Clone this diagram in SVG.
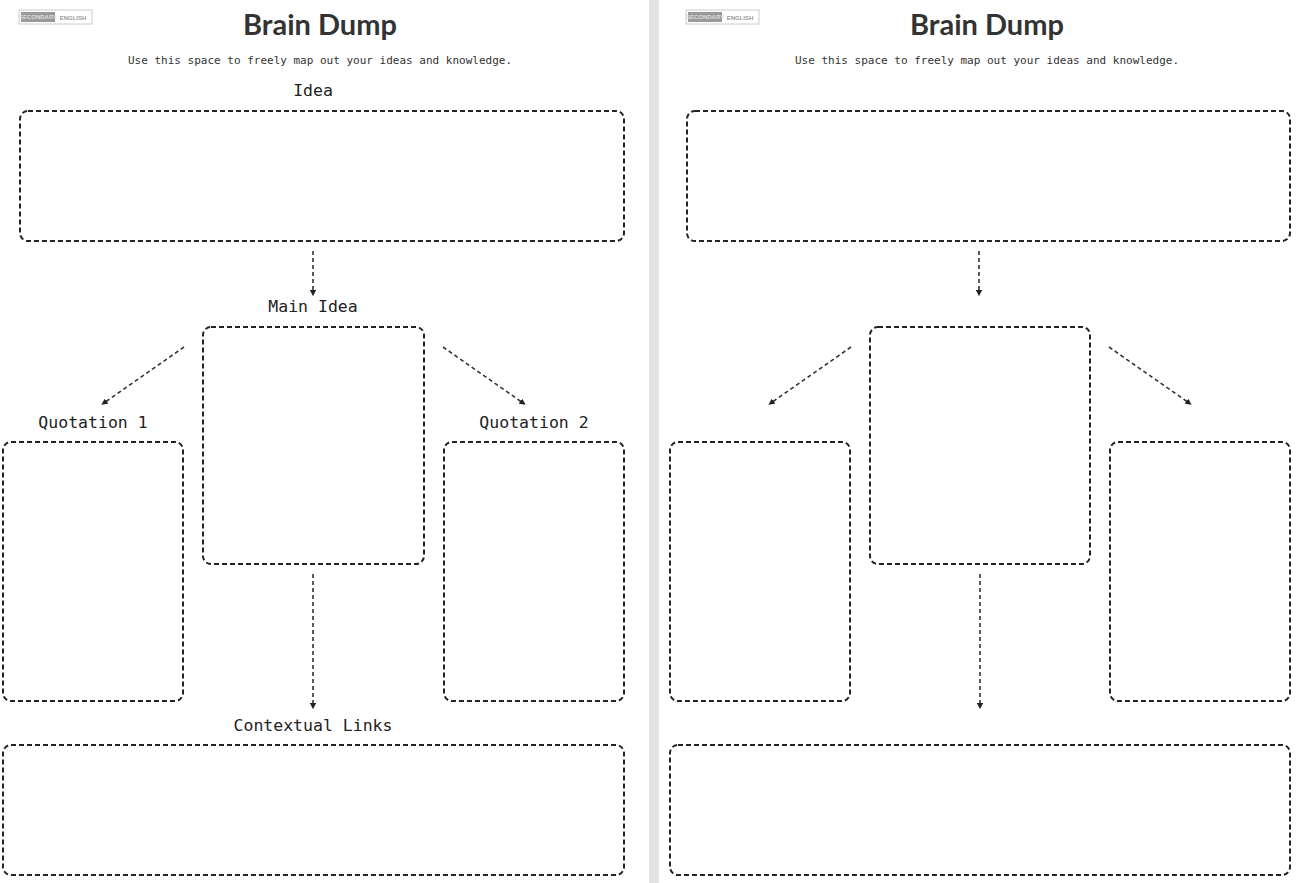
<svg xmlns="http://www.w3.org/2000/svg" width="1306" height="883" viewBox="0 0 1306 883">
<defs>
<style>
.box{fill:none;stroke:#222;stroke-width:2;stroke-dasharray:5,3}
.con{stroke:#333;stroke-width:1.6;stroke-dasharray:4,3;fill:none}
.t{font-family:"Lato","Liberation Sans",sans-serif;font-weight:bold;font-size:29px;fill:#333;text-anchor:middle}
.s{font-family:"DejaVu Sans Mono","Liberation Mono",monospace;font-size:11px;fill:#333;text-anchor:middle}
.l{font-family:"DejaVu Sans Mono","Liberation Mono",monospace;font-size:16.5px;fill:#222;text-anchor:middle}
.lg{font-family:"Liberation Sans",sans-serif;font-weight:bold;font-size:6px}
</style>
<marker id="a" viewBox="0 0 10 10" refX="5" refY="5" markerWidth="4" markerHeight="4" orient="auto"><path d="M0,0L10,5L0,10z" fill="#222"/></marker>
</defs>
<rect width="1306" height="883" fill="#fff"/>
<rect x="649" y="0" width="10" height="883" fill="#e3e3e3"/>
<g id="header-left">
<rect x="19" y="10" width="73" height="14" fill="#fff" stroke="#ccc"/><rect x="21" y="12" width="34" height="10" fill="#999"/>
<text x="38" y="19" class="lg" fill="#ddd" text-anchor="middle" font-size="4">SECONDARY</text><text x="73" y="19.5" class="lg" fill="#999" text-anchor="middle">ENGLISH</text>
<text x="320" y="35" class="t">Brain Dump</text>
<text x="320" y="64" class="s">Use this space to freely map out your ideas and knowledge.</text>
</g>
<g id="header-right">
<rect x="686" y="10" width="73" height="14" fill="#fff" stroke="#ccc"/><rect x="688" y="12" width="34" height="10" fill="#999"/>
<text x="705" y="19" class="lg" fill="#ddd" text-anchor="middle" font-size="4">SECONDARY</text><text x="740" y="19.5" class="lg" fill="#999" text-anchor="middle">ENGLISH</text>
<text x="987" y="35" class="t">Brain Dump</text>
<text x="987" y="64" class="s">Use this space to freely map out your ideas and knowledge.</text>
</g>
<g id="idea"><text x="313" y="96" class="l">Idea</text><rect x="20" y="111" width="604" height="130" rx="8" class="box"/></g>
<g id="main-idea"><text x="313" y="312" class="l">Main Idea</text><rect x="203" y="327" width="221" height="237" rx="8" class="box"/></g>
<g id="quotation-1"><text x="93" y="428" class="l">Quotation 1</text><rect x="3" y="442" width="180" height="259" rx="8" class="box"/></g>
<g id="quotation-2"><text x="534" y="428" class="l">Quotation 2</text><rect x="444" y="442" width="180" height="259" rx="8" class="box"/></g>
<g id="contextual-links"><text x="313" y="731" class="l">Contextual Links</text><rect x="3" y="745" width="621" height="130" rx="8" class="box"/></g>
<g id="r-idea"><rect x="687" y="111" width="603" height="130" rx="8" class="box"/></g>
<g id="r-main"><rect x="870" y="327" width="220" height="237" rx="8" class="box"/></g>
<g id="r-q1"><rect x="670" y="442" width="180" height="259" rx="8" class="box"/></g>
<g id="r-q2"><rect x="1110" y="442" width="180" height="259" rx="8" class="box"/></g>
<g id="r-context"><rect x="670" y="745" width="620" height="130" rx="8" class="box"/></g>
<g id="connectors">
<path class="con" marker-end="url(#a)" d="M313,251V293"/>
<path class="con" marker-end="url(#a)" d="M184,347L104,403"/>
<path class="con" marker-end="url(#a)" d="M443,347L523,403"/>
<path class="con" marker-end="url(#a)" d="M313,574V706"/>
<path class="con" marker-end="url(#a)" d="M979,251V293"/>
<path class="con" marker-end="url(#a)" d="M851,347L771,403"/>
<path class="con" marker-end="url(#a)" d="M1109,347L1189,403"/>
<path class="con" marker-end="url(#a)" d="M980,574V706"/>
</g>
</svg>
